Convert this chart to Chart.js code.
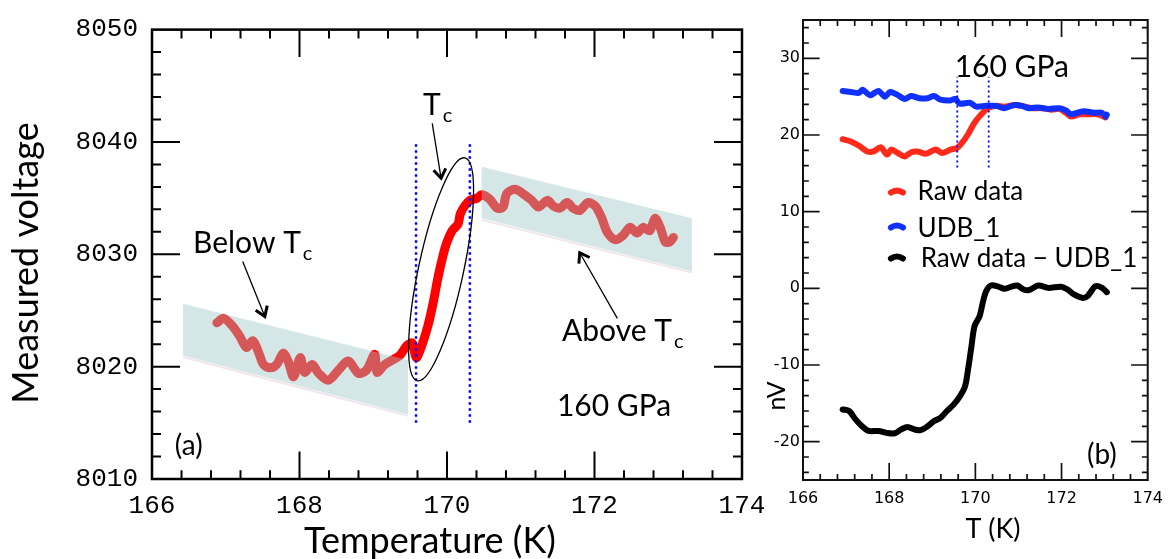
<!DOCTYPE html>
<html>
<head>
<meta charset="utf-8">
<script src="https://cdn.jsdelivr.net/npm/chart.js@4.4.1/dist/chart.umd.min.js"></script>
<style>
  html, body { margin: 0; padding: 0; background: #fff; }
  #wrap { position: relative; width: 1172px; height: 559px; overflow: hidden; background: #fff; }
  #chartA { position: absolute; left: 0; top: 0; width: 780px; height: 559px; }
  #chartB { position: absolute; left: 760px; top: 0; width: 412px; height: 559px; }
</style>
</head>
<body>
<div id="wrap">
  <canvas id="chartA" width="780" height="559"></canvas>
  <canvas id="chartB" width="412" height="559"></canvas>
</div>
<script>
// Panel (a): measured voltage across the transition, 160 GPa
const tempA = [166.88, 166.97, 167.08, 167.19, 167.28, 167.37, 167.46, 167.51, 167.60, 167.69,
  167.78, 167.85, 167.92, 168.01, 168.07, 168.17, 168.26, 168.39, 168.53, 168.66,
  168.80, 168.91, 169.02, 169.05, 169.16, 169.29, 169.36, 169.46, 169.53, 169.57,
  169.59, 169.66, 169.74, 169.81, 169.88, 169.95, 170.00, 170.07, 170.15, 170.18,
  170.24, 170.31, 170.41, 170.47, 170.58, 170.68, 170.76, 170.81, 170.92, 171.03,
  171.15, 171.24, 171.36, 171.44, 171.53, 171.63, 171.71, 171.80, 171.91, 172.01,
  172.10, 172.17, 172.28, 172.39, 172.48, 172.58, 172.66, 172.75, 172.82, 172.89,
  172.96, 173.02, 173.07];
const voltA = [8023.9, 8024.3, 8023.7, 8022.7, 8021.7, 8022.3, 8021.0, 8020.2, 8019.9, 8020.2,
  8021.2, 8020.4, 8019.1, 8020.8, 8019.5, 8020.2, 8019.4, 8018.8, 8019.7, 8020.5,
  8019.4, 8019.7, 8021.1, 8019.5, 8020.2, 8020.7, 8021.0, 8021.9, 8022.1, 8021.0,
  8020.8, 8021.9, 8023.6, 8025.6, 8028.0, 8030.0, 8031.1, 8032.1, 8032.7, 8033.6,
  8034.3, 8034.8, 8035.0, 8035.3, 8034.9, 8034.1, 8034.2, 8035.4, 8035.8, 8035.4,
  8034.8, 8034.2, 8034.8, 8034.3, 8034.1, 8034.6, 8034.1, 8033.9, 8034.6, 8034.3,
  8033.2, 8032.0, 8031.3, 8031.7, 8032.4, 8031.9, 8032.4, 8032.1, 8033.2, 8032.4,
  8031.1, 8031.1, 8031.5];

// Panel (b): raw signal, background (UDB_1) and their difference, in nV
const tempRaw = [166.92, 167.11, 167.30, 167.49, 167.64, 167.80, 167.95, 168.05, 168.20, 168.36,
  168.51, 168.66, 168.85, 169.08, 169.23, 169.42, 169.57, 169.68, 169.83, 169.98,
  170.14, 170.29, 170.48, 170.67, 170.90, 171.08, 171.31, 171.53, 171.76, 171.95,
  172.10, 172.22, 172.41, 172.60, 172.83, 173.02];
const nvRaw = [19.45, 19.15, 18.6, 17.85, 17.85, 18.4, 17.45, 18.1, 17.65, 17.2,
  17.75, 17.85, 17.55, 18.1, 17.65, 18.1, 18.3, 18.9, 20.1, 21.6,
  22.7, 23.5, 23.8, 23.7, 23.9, 23.8, 23.5, 23.5, 23.3, 23.4,
  22.9, 22.4, 22.7, 22.7, 22.7, 22.3];

const tempUdb = [166.92, 167.11, 167.30, 167.38, 167.56, 167.75, 167.90, 168.02, 168.20, 168.36,
  168.51, 168.70, 168.89, 169.04, 169.19, 169.42, 169.53, 169.64, 169.87, 170.02,
  170.25, 170.48, 170.67, 170.90, 171.08, 171.24, 171.46, 171.69, 171.95, 172.10,
  172.22, 172.37, 172.52, 172.75, 172.94, 173.02, 173.05];
const nvUdb = [25.75, 25.62, 25.5, 25.9, 25.2, 25.75, 25.0, 25.6, 25.2, 24.7,
  25.1, 24.8, 24.8, 25.1, 24.6, 24.5, 24.7, 24.1, 24.2, 23.7,
  23.8, 23.8, 23.5, 23.9, 23.8, 23.5, 23.6, 23.4, 23.5, 23.2,
  22.7, 22.9, 23.1, 22.9, 22.9, 22.4, 22.65];

const tempDiff = [166.92, 167.07, 167.22, 167.37, 167.52, 167.75, 167.94, 168.13, 168.28, 168.43,
  168.58, 168.73, 168.89, 169.04, 169.19, 169.34, 169.49, 169.64, 169.76, 169.83,
  169.91, 169.98, 170.10, 170.17, 170.25, 170.36, 170.55, 170.67, 170.82, 170.97,
  171.12, 171.24, 171.46, 171.69, 171.99, 172.14, 172.29, 172.48, 172.60, 172.79,
  172.94, 173.05];
const nvDiff = [-15.8, -16.0, -17.1, -18.0, -18.6, -18.6, -18.85, -18.9, -18.4, -18.1,
  -18.4, -18.5, -18.0, -17.3, -16.9, -16.0, -15.2, -14.1, -12.8, -10.6,
  -7.55, -4.94, -3.6, -1.9, -0.37, 0.37, 0.2, -0.07, 0.2, 0.37,
  -0.15, -0.24, 0.37, 0.06, 0.2, -0.15, -0.8, -1.24, -1.02, 0.28,
  0.06, -0.5];

// Tick labels
const ticksA_T = [166, 168, 170, 172, 174];
const ticksA_V = [8010, 8020, 8030, 8040, 8050];
const ticksB_T = [166, 168, 170, 172, 174];
const ticksB_nV = [-20, -10, 0, 10, 20, 30];

// Onset / end of the transition (dotted guides)
const tcBounds = [169.58, 170.31];

// Shaded trend bands below and above Tc (temperature, voltage corners)
const bandBelowT = [166.42, 169.47, 169.47, 166.42];
const bandBelowV = [8025.6, 8020.6, 8015.75, 8021.0];
const bandAboveT = [170.47, 173.32, 173.32, 170.47];
const bandAboveV = [8037.8, 8033.2, 8028.5, 8033.2];

const xy = (ts, vs) => ts.map((t, i) => ({ x: t, y: vs[i] }));
const TEXT_FONT = 'Lato, "Open Sans", sans-serif';

// Inward tick marks on all four sides, built as one broken line dataset.
// Each axis: {min, max, step, every, major, minor}; major/minor are the
// lengths, in that axis' own units, of the marks that lie along it.
function tickMarks(xa, ya, color, width) {
  const pts = [];
  const isMajor = (v, every) => Math.abs(v / every - Math.round(v / every)) < 1e-6;
  const nx = Math.round((xa.max - xa.min) / xa.step);
  for (let i = 0; i <= nx; i++) {
    const v = +(xa.min + i * xa.step).toFixed(6);
    const len = isMajor(v, xa.every) ? ya.major : ya.minor;
    pts.push({ x: v, y: ya.min }, { x: v, y: ya.min + len }, { x: v, y: null });
    pts.push({ x: v, y: ya.max }, { x: v, y: ya.max - len }, { x: v, y: null });
  }
  const y0 = Math.ceil(ya.min / ya.step - 1e-6);
  const y1 = Math.floor(ya.max / ya.step + 1e-6);
  for (let i = y0; i <= y1; i++) {
    const v = +(i * ya.step).toFixed(6);
    const len = isMajor(v, ya.every) ? xa.major : xa.minor;
    pts.push({ x: xa.min, y: v }, { x: xa.min + len, y: v }, { x: xa.min, y: null });
    pts.push({ x: xa.max, y: v }, { x: xa.max - len, y: v }, { x: xa.max, y: null });
  }
  return {
    data: pts, borderColor: color, borderWidth: width, borderCapStyle: 'butt',
    pointRadius: 0, spanGaps: false, tension: 0, order: 9
  };
}

// Plot frame
function frame(color, width) {
  return {
    id: 'frame',
    afterDraw(chart) {
      const a = chart.chartArea, ctx = chart.ctx;
      ctx.save();
      ctx.strokeStyle = color;
      ctx.lineWidth = width;
      ctx.strokeRect(a.left, a.top, a.right - a.left, a.bottom - a.top);
      ctx.restore();
    }
  };
}

function arrow(ctx, x1, y1, x2, y2) {
  ctx.beginPath();
  ctx.moveTo(x1, y1); ctx.lineTo(x2, y2);
  ctx.lineWidth = 1.3;
  ctx.stroke();
  const ang = Math.atan2(y2 - y1, x2 - x1), len = 11, spread = 0.6;
  ctx.beginPath();
  ctx.moveTo(x2 - len * Math.cos(ang - spread), y2 - len * Math.sin(ang - spread));
  ctx.lineTo(x2, y2);
  ctx.lineTo(x2 - len * Math.cos(ang + spread), y2 - len * Math.sin(ang + spread));
  ctx.lineWidth = 3;
  ctx.stroke();
}

// Text with a subscript, e.g. T with c
function subText(ctx, main, sub, x, y, size) {
  ctx.textAlign = 'left';
  ctx.textBaseline = 'alphabetic';
  ctx.font = size + 'px ' + TEXT_FONT;
  ctx.fillText(main, x, y);
  const w = ctx.measureText(main).width;
  ctx.font = Math.round(size * 0.68) + 'px ' + TEXT_FONT;
  ctx.fillText(sub, x + w + 2, y + size * 0.25);
}

function polygon(ctx, chart, ts, vs) {
  const { x, y } = chart.scales;
  ctx.beginPath();
  ts.forEach((t, i) => {
    const px = x.getPixelForValue(t), py = y.getPixelForValue(vs[i]);
    if (i === 0) ctx.moveTo(px, py); else ctx.lineTo(px, py);
  });
  ctx.closePath();
}

const annotateA = {
  id: 'annotateA',
  afterDatasetsDraw(chart) {
    const ctx = chart.ctx;
    const { x, y } = chart.scales;
    ctx.save();
    [[bandBelowT, bandBelowV], [bandAboveT, bandAboveV]].forEach(([ts, vs]) => {
      // faint shadow along the lower edge
      ctx.beginPath();
      ctx.moveTo(x.getPixelForValue(ts[3]), y.getPixelForValue(vs[3]) + 1.5);
      ctx.lineTo(x.getPixelForValue(ts[2]), y.getPixelForValue(vs[2]) + 1.5);
      ctx.strokeStyle = 'rgba(220,190,205,0.4)';
      ctx.lineWidth = 2;
      ctx.stroke();
      polygon(ctx, chart, ts, vs);
      ctx.fillStyle = 'rgba(160,199,199,0.44)';
      ctx.fill();
    });
    ctx.restore();
  },
  afterDraw(chart) {
    const ctx = chart.ctx;
    const { x, y } = chart.scales;
    const P = (t, v) => [x.getPixelForValue(t), y.getPixelForValue(v)];
    ctx.save();
    ctx.fillStyle = '#000';
    ctx.strokeStyle = '#000';

    // ellipse around the transition
    const [cx, cy] = P(169.92, 8028.66);
    ctx.beginPath();
    ctx.ellipse(cx, cy, 114, 22.5, Math.atan2(-112, 24), 0, Math.PI * 2);
    ctx.lineWidth = 1.3;
    ctx.stroke();

    arrow(ctx, ...P(169.80, 8041.65), ...P(169.92, 8036.77));
    arrow(ctx, ...P(167.23, 8029.35), ...P(167.53, 8024.47));
    arrow(ctx, ...P(172.31, 8024.30), ...P(171.80, 8030.14));

    subText(ctx, 'T', 'c', ...P(169.675, 8042.43), 30);
    subText(ctx, 'Below T', 'c', ...P(166.556, 8030.14), 30);
    subText(ctx, 'Above T', 'c', ...P(171.56, 8022.29), 30);

    ctx.font = '30px ' + TEXT_FONT;
    ctx.textAlign = 'left';
    ctx.textBaseline = 'alphabetic';
    ctx.fillText('160 GPa', ...P(171.49, 8015.58));
    ctx.textBaseline = 'middle';
    ctx.font = '28px ' + TEXT_FONT;
    ctx.fillText('(a)', ...P(166.31, 8012.9));

    // axis titles
    ctx.font = '36px ' + TEXT_FONT;
    ctx.textAlign = 'center';
    ctx.textBaseline = 'alphabetic';
    ctx.fillText('Temperature (K)', 430, 553);
    ctx.translate(38, 263);
    ctx.rotate(-Math.PI / 2);
    ctx.fillText('Measured voltage', 0, 0);
    ctx.restore();
  }
};

const annotateB = {
  id: 'annotateB',
  afterDraw(chart) {
    const ctx = chart.ctx;
    const { x, y } = chart.scales;
    const P = (t, v) => [x.getPixelForValue(t), y.getPixelForValue(v)];
    ctx.save();
    ctx.fillStyle = '#000';
    ctx.textAlign = 'left';
    ctx.textBaseline = 'alphabetic';
    ctx.font = '30px ' + TEXT_FONT;
    ctx.fillText('160 GPa', ...P(169.52, 27.61));

    // legend
    const legend = [
      ['Raw data', '#ff2a1a', 12.62, 11.58, 168.66],
      ['UDB_1', '#1030ff', 8.06, 6.76, 168.66],
      ['Raw data \u2212 UDB_1', '#000', 4.02, 2.72, 168.73]
    ];
    ctx.font = '26px ' + TEXT_FONT;
    legend.forEach(([label, color, mv, tv, tt]) => {
      const [mx, my] = P(168.18, mv);
      ctx.strokeStyle = color;
      ctx.lineWidth = 6;
      ctx.lineCap = 'round';
      ctx.beginPath();
      ctx.moveTo(mx - 6, my + 1);
      ctx.quadraticCurveTo(mx, my - 3, mx + 6, my + 1);
      ctx.stroke();
      ctx.fillStyle = '#000';
      ctx.fillText(label, ...P(tt, tv));
    });

    ctx.textBaseline = 'middle';
    ctx.font = '28px ' + TEXT_FONT;
    ctx.fillText('(b)', ...P(172.59, -21.67));

    ctx.textAlign = 'center';
    ctx.textBaseline = 'alphabetic';
    ctx.font = '27px ' + TEXT_FONT;
    ctx.fillText('T (K)', 233, 538);
    ctx.translate(25, 396);
    ctx.rotate(-Math.PI / 2);
    ctx.font = '25px ' + TEXT_FONT;
    ctx.fillText('nV', 0, 0);
    ctx.restore();
  }
};

function dotted(t, v0, v1, width, dash) {
  return {
    data: [{ x: t, y: v0 }, { x: t, y: v1 }],
    borderColor: '#0000ff', borderWidth: width, borderDash: dash,
    pointRadius: 0, order: 0
  };
}

function scaleOpts(min, max, ticks, font, padding, fit) {
  return {
    type: 'linear', min, max,
    grid: { display: false, drawTicks: false },
    border: { display: false },
    afterBuildTicks: s => { s.ticks = ticks.map(v => ({ value: v })); },
    afterFit: fit,
    ticks: { color: '#000', font, padding, autoSkip: false, maxRotation: 0, callback: v => String(v) }
  };
}

new Chart(document.getElementById('chartA'), {
  type: 'line',
  data: {
    datasets: [
      dotted(tcBounds[0], 8015, 8040, 2.5, [2.5, 3.5]),
      dotted(tcBounds[1], 8015, 8040, 2.5, [2.5, 3.5]),
      {
        data: xy(tempA, voltA),
        borderColor: '#ff0000', borderWidth: 9, tension: 0.3,
        borderCapStyle: 'round', borderJoinStyle: 'round',
        pointRadius: 0, order: 1
      },
      tickMarks({ min: 166, max: 174, step: 0.4, every: 2, major: 0.38, minor: 0.122 },
                { min: 8010, max: 8050, step: 2, every: 10, major: 2.44, minor: 0.785 }, '#000', 2)
    ]
  },
  options: {
    responsive: false, animation: false, events: [],
    layout: { padding: { top: 20, right: 38, left: 0, bottom: 0 } },
    plugins: { legend: { display: false }, tooltip: { enabled: false } },
    scales: {
      x: scaleOpts(166, 174, ticksA_T, { family: 'Liberation Mono', size: 26 }, 12, s => { s.height = 80; }),
      y: scaleOpts(8010, 8050, ticksA_V, { family: 'Liberation Mono', size: 26 }, 14, s => { s.width = 152; })
    }
  },
  plugins: [frame('#000', 2.5), annotateA]
});

new Chart(document.getElementById('chartB'), {
  type: 'line',
  data: {
    datasets: [
      dotted(tcBounds[0], 15.75, 27.6, 1.8, [2, 3]),
      dotted(tcBounds[1], 15.75, 27.6, 1.8, [2, 3]),
      { data: xy(tempUdb, nvUdb), borderColor: '#1030ff', borderWidth: 6, tension: 0.3,
        borderCapStyle: 'round', borderJoinStyle: 'round', pointRadius: 0, order: 1 },
      { data: xy(tempRaw, nvRaw), borderColor: '#ff2a1a', borderWidth: 6, tension: 0.3,
        borderCapStyle: 'round', borderJoinStyle: 'round', pointRadius: 0, order: 2 },
      { data: xy(tempDiff, nvDiff), borderColor: '#000', borderWidth: 6, tension: 0.3,
        borderCapStyle: 'round', borderJoinStyle: 'round', pointRadius: 0, order: 3 },
      tickMarks({ min: 166, max: 174, step: 0.4, every: 2, major: 0.386, minor: 0.136 },
                { min: -25, max: 35, step: 2, every: 10, major: 2.22, minor: 0.78 }, '#111', 1.7)
    ]
  },
  options: {
    responsive: false, animation: false, events: [],
    layout: { padding: { top: 20, right: 17, left: 0, bottom: 0 } },
    plugins: { legend: { display: false }, tooltip: { enabled: false } },
    scales: {
      x: scaleOpts(166, 174, ticksB_T, { family: 'DejaVu Sans', size: 16 }, 9, s => { s.height = 79; }),
      y: scaleOpts(-25, 35, ticksB_nV, { family: 'DejaVu Sans', size: 16 }, 3, s => { s.width = 43; })
    }
  },
  plugins: [frame('#111', 2), annotateB]
});
</script>
</body>
</html>
